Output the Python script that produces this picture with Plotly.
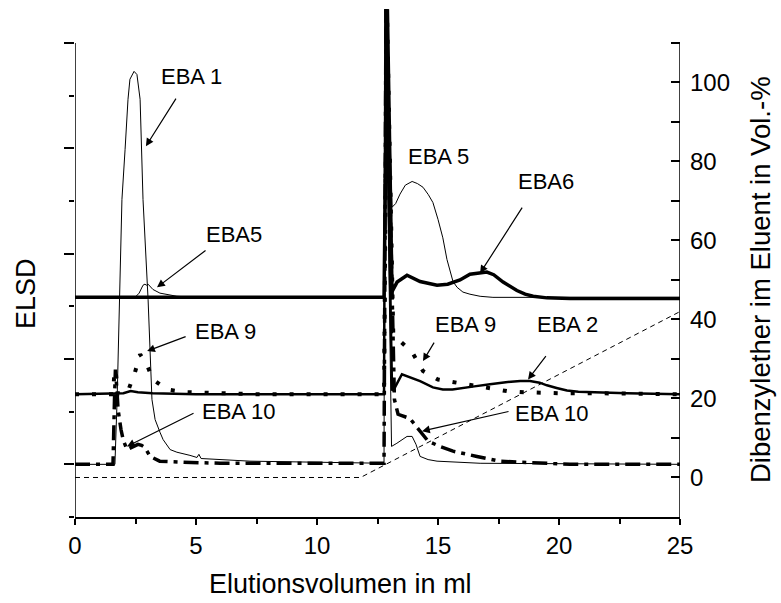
import plotly.graph_objects as go

# ---------------- data ----------------
# ELSD traces (left axis, offset baselines), x = Elutionsvolumen in ml
eba1_x = [0, 1.57, 1.65, 1.74, 1.82, 1.94, 2.07, 2.19, 2.27, 2.44, 2.56, 2.69, 2.81, 3.02, 3.18, 3.31, 3.51,
          3.64, 3.93, 4.21, 4.75, 5.04, 5.12, 5.21, 7.23, 9.3, 12.77, 12.81, 13.08, 13.3, 13.51, 13.72, 13.93,
          14.09, 14.26, 14.59, 14.96, 16.74, 25]
eba1_y = [0, 0, 0, 1.23, 2.94, 5.03, 5.98, 6.93, 7.31, 7.46, 7.40, 6.93, 5.03, 3.13, 1.23, 0.85, 0.61,
          0.47, 0.28, 0.23, 0.17, 0.13, 0.19, 0.11, 0.06, 0.04, 0.02, 8.64, 0.34, 0.40, 0.47, 0.53, 0.53,
          0.38, 0.15, 0.09, 0.06, 0.02, 0]

eba10_x = [0, 1.57, 1.63, 1.67, 1.72, 1.78, 1.9, 2.0, 2.15, 2.35, 2.6, 2.75, 2.89, 3.1, 3.5, 4.5, 6.0,
           12.77, 12.85, 13.2, 13.35, 13.84, 14.26, 14.59, 15.08, 15.62, 16.61, 17.56, 18.39, 20.45, 25]
eba10_y = [0, 0, 1.2, 1.8, 1.5, 1.04, 0.66, 0.45, 0.28, 0.32, 0.38, 0.36, 0.32, 0.15, 0.06, 0.04, 0.02,
           0.02, 8.64, 1.23, 0.95, 0.87, 0.63, 0.44, 0.34, 0.25, 0.15, 0.06, 0.04, 0, 0]

eba9_x = [0, 1.57, 1.63, 1.67, 1.72, 1.78, 1.95, 2.19, 2.48, 2.69, 2.98, 3.22, 3.8, 4.55, 5.99, 7.6,
          12.77, 12.89, 13.15, 13.43, 13.93, 14.38, 15.0, 15.66, 17.11, 17.85, 18.55, 19.96, 21.4, 25]
eba9_y = [1.33, 1.33, 1.75, 1.80, 1.6, 1.33, 1.33, 1.39, 1.75, 2.09, 1.88, 1.61, 1.42, 1.37, 1.35, 1.33,
          1.33, 8.64, 2.5, 2.34, 2.13, 1.77, 1.61, 1.56, 1.44, 1.39, 1.37, 1.35, 1.35, 1.33]

eba2_x = [0, 2.0, 2.3, 2.6, 3.2, 5.0, 12.77, 12.83, 13.1, 13.22, 13.51, 14.26, 14.79, 15.2, 15.6, 16.0,
          16.5, 17.15, 17.8, 18.4, 18.8, 19.2, 19.5, 19.9, 20.33, 20.8, 21.4, 22.8, 25]
eba2_y = [1.33, 1.35, 1.39, 1.37, 1.35, 1.33, 1.33, 8.64, 1.40, 1.46, 1.71, 1.58, 1.46, 1.42, 1.42, 1.45,
          1.48, 1.52, 1.56, 1.58, 1.58, 1.55, 1.50, 1.45, 1.40, 1.38, 1.37, 1.35, 1.33]

eba5_x = [0, 2.48, 2.65, 2.81, 2.89, 2.95, 3.02, 3.1, 3.22, 3.51, 4.21, 5.0, 12.77, 12.87, 13.1, 13.25,
          13.43, 13.65, 13.93, 14.15, 14.38, 14.6, 14.79, 15.0, 15.2, 15.37, 15.62, 15.79, 16.03, 16.32,
          16.74, 17.27, 25]
eba5_y = [3.17, 3.17, 3.25, 3.40, 3.42, 3.40, 3.42, 3.38, 3.32, 3.25, 3.19, 3.17, 3.17, 8.64, 4.88, 4.95,
          5.13, 5.30, 5.37, 5.33, 5.26, 5.12, 4.97, 4.65, 4.30, 3.89, 3.47, 3.36, 3.27, 3.23,
          3.19, 3.17, 3.17]

eba6_x = [0, 12.77, 12.91, 13.1, 13.31, 13.72, 14.26, 14.96, 15.4, 15.91, 16.32, 16.74, 17.02, 17.3,
          17.69, 18.26, 18.6, 18.93, 19.5, 20.45, 25]
eba6_y = [3.17, 3.17, 8.64, 3.28, 3.46, 3.59, 3.47, 3.40, 3.42, 3.50, 3.61, 3.63, 3.65, 3.60,
          3.46, 3.30, 3.23, 3.19, 3.16, 3.15, 3.15]

# Dibenzylether gradient (right axis, Vol.-%)
grad_x = [0, 11.8, 25]
grad_y = [0, 0, 42]

# tick values
x_major = [0, 5, 10, 15, 20, 25]
x_minor = [2.5, 7.5, 12.5, 17.5, 22.5]
left_major = [0, 2, 4, 6, 8]
left_minor = [-1, 1, 3, 5, 7]
right_major = [0, 20, 40, 60, 80, 100]
right_minor = [-10, 10, 30, 50, 70, 90, 110]

# labels (text centre, data units of x / left axis)
label_text = ["EBA 1", "EBA5", "EBA 9", "EBA 10", "EBA 5", "EBA6", "EBA 9", "EBA 2", "EBA 10"]
label_x = [4.83, 6.57, 6.20, 6.74, 15.0, 19.46, 16.12, 20.37, 19.71]
label_y = [7.37, 4.37, 2.53, 1.01, 5.85, 5.37, 2.66, 2.66, 0.97]

# arrows: tip (data units) and tail offset (pixels)
arrow_x = [2.93, 3.39, 2.98, 2.15, 16.74, 14.38, 18.72, 14.34]
arrow_y = [6.04, 3.36, 2.15, 0.34, 3.63, 1.96, 1.61, 0.63]
arrow_ax = [31, 50, 40, 68, 43, 12, 19, 88]
arrow_ay = [-49, -38, -15, -34, -67, -20, -25, -20]

# axis titles: text, centre (pixels), rotation, size
title_text = ["ELSD", "Dibenzylether im Eluent in Vol.-%", "Elutionsvolumen in ml"]
title_px = [26, 760, 340]
title_py = [294, 280, 584]
title_angle = [-90, -90, 0]
title_size = [27, 27.5, 27]

FONT = "Liberation Sans, Arial, sans-serif"
W, H = 781, 603
ML, MR, MT, MB = 75, 101, 5, 86
PW, PH = W - ML - MR, H - MT - MB

fig = go.Figure()

def add(x, y, width, dash="solid", yaxis="y"):
    fig.add_trace(go.Scatter(x=x, y=y, mode="lines", yaxis=yaxis,
                             line=dict(color="black", width=width, dash=dash),
                             showlegend=False, hoverinfo="skip"))

add(grad_x, grad_y, 1, "5px,4px", yaxis="y2")
add(eba1_x, eba1_y, 1)
add(eba5_x, eba5_y, 1)
add(eba6_x, eba6_y, 3.5)
add(eba2_x, eba2_y, 2.5)
add(eba9_x, eba9_y, 4, "4px,13px")
add(eba10_x, eba10_y, 3.5, "15px,6px,4px,6px")

annotations = []
for t, x, y in zip(label_text, label_x, label_y):
    annotations.append(dict(x=x, y=y, xref="x", yref="y", text=t, showarrow=False,
                            font=dict(family=FONT, size=22, color="black"),
                            xanchor="center", yanchor="middle"))
for x, y, ax, ay in zip(arrow_x, arrow_y, arrow_ax, arrow_ay):
    annotations.append(dict(x=x, y=y, xref="x", yref="y", text="", showarrow=True,
                            ax=ax, ay=ay, arrowhead=2, arrowsize=1.3, arrowwidth=1.2,
                            arrowcolor="black", standoff=0, startstandoff=0))
for t, px, py, ang, sz in zip(title_text, title_px, title_py, title_angle, title_size):
    annotations.append(dict(x=(px - ML) / PW, y=(H - MB - py) / PH, xref="paper", yref="paper",
                            text=t, showarrow=False, textangle=ang,
                            xanchor="center", yanchor="middle",
                            font=dict(family=FONT, size=sz, color="black")))

shapes = [
    dict(type="line", xref="x", yref="y", x0=0, x1=0, y0=-1, y1=8, line=dict(color="black", width=1.5)),
    dict(type="line", xref="x", yref="y", x0=25, x1=25, y0=-1, y1=8, line=dict(color="black", width=1.5)),
]

fig.update_layout(
    width=W, height=H,
    margin=dict(l=ML, r=MR, t=MT, b=MB),
    paper_bgcolor="white", plot_bgcolor="white",
    font=dict(family=FONT, color="black"),
    annotations=annotations,
    shapes=shapes,
    xaxis=dict(range=[0, 25], tickmode="array", tickvals=x_major, showgrid=False, zeroline=False,
               showline=True, linecolor="black", linewidth=1.5, ticks="outside", ticklen=6,
               tickwidth=1.5, tickcolor="black", tickfont=dict(size=24, family=FONT),
               minor=dict(tickmode="array", tickvals=x_minor, ticks="outside", ticklen=5,
                          tickcolor="black", tickwidth=1.5)),
    yaxis=dict(range=[-1, 8.72], tickmode="array", tickvals=left_major, showticklabels=False,
               showgrid=False, zeroline=False, showline=False, ticks="outside", ticklen=10,
               tickwidth=1.5, tickcolor="black",
               minor=dict(tickmode="array", tickvals=left_minor, ticks="outside", ticklen=5,
                          tickcolor="black", tickwidth=1.5)),
    yaxis2=dict(range=[-10, 119.6], overlaying="y", side="right", anchor="x", tickmode="array",
                tickvals=right_major, showgrid=False, zeroline=False, showline=False,
                ticks="inside", ticklen=9, tickwidth=1.5, tickcolor="black",
                tickfont=dict(size=24, family=FONT), ticklabelstandoff=9,
                minor=dict(tickmode="array", tickvals=right_minor, ticks="inside", ticklen=9,
                           tickcolor="black", tickwidth=1.5)),
)

fig.write_html("out.html")
